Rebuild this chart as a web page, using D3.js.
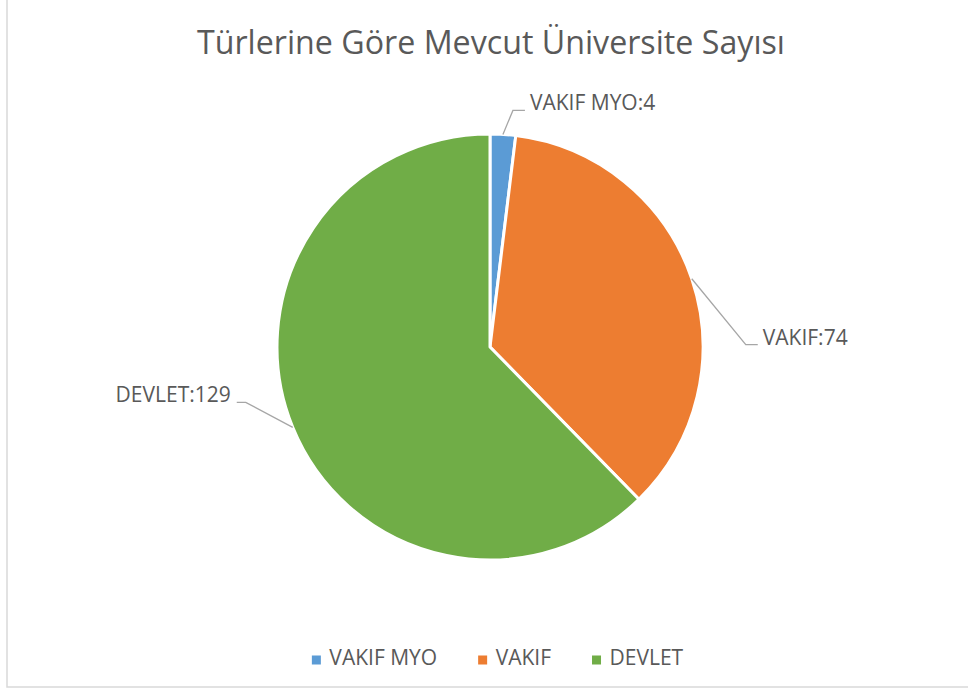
<!DOCTYPE html>
<html>
<head>
<meta charset="utf-8">
<script src="https://cdn.jsdelivr.net/npm/d3@7"></script>
<style>
  body { margin: 0; background: #fff; }
  text { font-family: "Open Sans", "Noto Sans", sans-serif; fill: #595959; }
</style>
</head>
<body>
<svg id="chart"></svg>
<script>
const categories = ["VAKIF MYO", "VAKIF", "DEVLET"];
const values = [4, 74, 129];
const colors = ["#5B9BD5", "#ED7D31", "#70AD47"];
const title = "Türlerine Göre Mevcut Üniversite Sayısı";

// leader line bends (dx, dy from slice edge) and horizontal tail length
const labelLayout = [
  { dx: 10, dy: -24, tail: 12 },
  { dx: 54, dy: 66, tail: 12 },
  { dx: -47, dy: -25, tail: -9 }
];

const width = 968, height = 691;
const cx = 490, cy = 347, radius = 213;

const svg = d3.select("#chart")
  .attr("width", width)
  .attr("height", height);

// chart area border
svg.append("rect")
  .attr("x", 7)
  .attr("y", -5)
  .attr("width", width + 10)
  .attr("height", 692)
  .attr("fill", "none")
  .attr("stroke", "#d9d9d9")
  .attr("stroke-width", 1.5);

svg.append("text")
  .attr("x", 491)
  .attr("y", 54)
  .attr("text-anchor", "middle")
  .style("font-size", "32px")
  .attr("textLength", 588)
  .attr("lengthAdjust", "spacingAndGlyphs")
  .text(title);

const data = categories.map((c, i) => ({ name: c, value: values[i], color: colors[i] }));

const pie = d3.pie()
  .value(d => d.value)
  .sort(null);

const arc = d3.arc()
  .innerRadius(0)
  .outerRadius(radius);

const arcs = pie(data);

const g = svg.append("g")
  .attr("transform", "translate(" + cx + "," + cy + ")");

g.selectAll("path.slice")
  .data(arcs)
  .enter()
  .append("path")
  .attr("class", "slice")
  .attr("d", arc)
  .attr("fill", d => d.data.color)
  .attr("stroke", "#fff")
  .attr("stroke-width", 3)
  .attr("stroke-linejoin", "round");

// data labels with leader lines
arcs.forEach((d, i) => {
  const mid = (d.startAngle + d.endAngle) / 2;
  const x0 = Math.sin(mid) * radius;
  const y0 = -Math.cos(mid) * radius;
  const lay = labelLayout[i];
  const x1 = x0 + lay.dx, y1 = y0 + lay.dy;
  const x2 = x1 + lay.tail;

  g.append("polyline")
    .attr("points", [[x0, y0], [x1, y1], [x2, y1]].map(p => p.join(",")).join(" "))
    .attr("fill", "none")
    .attr("stroke", "#a6a6a6")
    .attr("stroke-width", 1.3);

  const right = lay.tail > 0;
  g.append("text")
    .attr("x", x2 + (right ? 5 : -6))
    .attr("y", y1)
    .attr("text-anchor", right ? "start" : "end")
    .style("font-size", "21px")
    .text(d.data.name + ":" + d.data.value);
});

// legend
const legend = svg.append("g");
const items = legend.selectAll("g")
  .data(data)
  .enter()
  .append("g");

items.append("rect")
  .attr("width", 9)
  .attr("height", 9)
  .attr("y", -9.5)
  .attr("fill", d => d.color);

items.append("text")
  .attr("x", 17.5)
  .attr("y", 0)
  .style("font-size", "21px")
  .text(d => d.name);

let offset = 0;
items.each(function () {
  const w = this.querySelector("text").getComputedTextLength() + 17.5;
  d3.select(this).attr("transform", "translate(" + offset + ",0)");
  offset += w + 41;
});
const legendWidth = offset - 41;
legend.attr("transform", "translate(" + (497.5 - legendWidth / 2) + ",665)");
</script>
</body>
</html>
